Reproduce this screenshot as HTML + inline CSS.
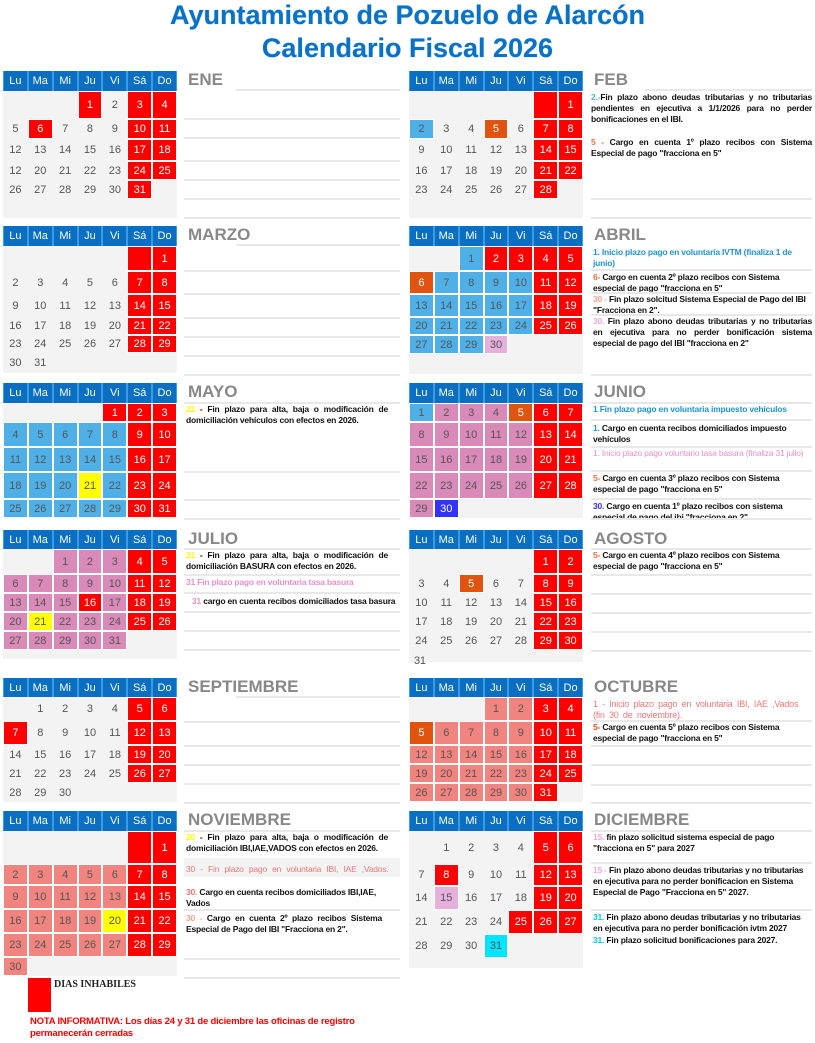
<!DOCTYPE html>
<html><head><meta charset="utf-8">
<style>
*{margin:0;padding:0;box-sizing:border-box}
body{width:815px;height:1043px;background:#fff;position:relative;overflow:hidden;font-family:"Liberation Sans",Arial,sans-serif}
.t{position:absolute;left:0;width:815px;text-align:center;color:#0a72c6;font-weight:bold;font-size:27px;line-height:30px;text-shadow:0 0 1px #7fb6e6}
.g{position:absolute;width:174px;display:grid;grid-template-columns:repeat(7,1fr);background:#f3f3f3}
.g>div{display:flex;align-items:center;justify-content:center;font-size:11px;color:#555;border:1px solid transparent}
.g>.h{background:#0a6fc2;color:#fff;border:1px solid #3d9be0;border-top:0;border-bottom:0}
.g>.r{background:#ff0000;color:#fff;border-color:#fff}
.g>.b{background:#4fb0e8;border-color:#fff}
.g>.o{background:#e05410;color:#fff;border-color:#fff}
.g>.p{background:#d98ab8;border-color:#fff}
.g>.s{background:#f28480;border-color:#fff}
.g>.y{background:#ffff00;border-color:#fff}
.g>.d{background:#3333ff;color:#fff;border-color:#fff}
.g>.c{background:#00e5ff;border-color:#fff}
.g>.l{background:#e6b0dc;border-color:#fff}
.m{position:absolute;color:#888;font-weight:bold;font-size:17px;line-height:20px}
.n{position:absolute;font-size:8.5px;line-height:11px;font-weight:bold;color:#111;letter-spacing:-0.2px}
.j{text-align:justify;text-align-last:left}
.ln{position:absolute;height:2px;background:#e8e8e8}
</style></head><body>
<div class="t" style="top:0">Ayuntamiento de Pozuelo de Alarcón</div>
<div class="t" style="top:33px">Calendario Fiscal 2026</div>

<!-- ENE -->
<div class="g" style="left:3px;top:71px;grid-template-rows:20px 28px 20px 22px 19px 19px 19px">
<div class="h">Lu</div><div class="h">Ma</div><div class="h">Mi</div><div class="h">Ju</div><div class="h">Vi</div><div class="h">Sá</div><div class="h">Do</div>
<div></div><div></div><div></div><div class="r">1</div><div>2</div><div class="r">3</div><div class="r">4</div>
<div>5</div><div class="r">6</div><div>7</div><div>8</div><div>9</div><div class="r">10</div><div class="r">11</div>
<div>12</div><div>13</div><div>14</div><div>15</div><div>16</div><div class="r">17</div><div class="r">18</div>
<div>12</div><div>20</div><div>21</div><div>22</div><div>23</div><div class="r">24</div><div class="r">25</div>
<div>26</div><div>27</div><div>28</div><div>29</div><div>30</div><div class="r">31</div><div></div>
</div>
<div class="m" style="left:188px;top:70px">ENE</div>
<div class="ln" style="left:236px;width:164px;top:89px"></div>
<div class="ln" style="left:184px;width:216px;top:118px"></div>
<div class="ln" style="left:184px;width:216px;top:137px"></div>
<div class="ln" style="left:184px;width:216px;top:160px"></div>
<div class="ln" style="left:184px;width:216px;top:179px"></div>
<div class="ln" style="left:184px;width:216px;top:198px"></div>
<div class="ln" style="left:184px;width:216px;top:217px"></div>

<!-- FEB -->
<div class="g" style="left:409px;top:71px;grid-template-rows:20px 28px 20px 22px 19px 19px 19px">
<div class="h">Lu</div><div class="h">Ma</div><div class="h">Mi</div><div class="h">Ju</div><div class="h">Vi</div><div class="h">Sá</div><div class="h">Do</div>
<div></div><div></div><div></div><div></div><div></div><div class="r"></div><div class="r">1</div>
<div class="b">2</div><div>3</div><div>4</div><div class="o">5</div><div>6</div><div class="r">7</div><div class="r">8</div>
<div>9</div><div>10</div><div>11</div><div>12</div><div>13</div><div class="r">14</div><div class="r">15</div>
<div>16</div><div>17</div><div>18</div><div>19</div><div>20</div><div class="r">21</div><div class="r">22</div>
<div>23</div><div>24</div><div>25</div><div>26</div><div>27</div><div class="r">28</div><div></div>
</div>
<div class="m" style="left:594px;top:70px">FEB</div>
<div class="ln" style="left:645px;width:167px;top:89px"></div>
<div class="n j" style="left:591px;top:92px;width:221px"><span style="color:#4fb0e8">2.-</span>Fin plazo abono deudas tributarias y no tributarias pendientes en ejecutiva a 1/1/2026 para no perder bonificaciones en el IBI.</div>
<div class="n j" style="left:591px;top:137px;width:221px"><span style="color:#f07040">5 -</span> Cargo en cuenta 1º plazo recibos con Sistema Especial de pago "fracciona en 5"</div>
<div class="ln" style="left:591px;width:221px;top:198px"></div>
<div class="ln" style="left:591px;width:221px;top:217px"></div>

<!-- MARZO -->
<div class="g" style="left:3px;top:226px;grid-template-rows:20px 25px 23px 23px 18px 18px 20px">
<div class="h">Lu</div><div class="h">Ma</div><div class="h">Mi</div><div class="h">Ju</div><div class="h">Vi</div><div class="h">Sá</div><div class="h">Do</div>
<div></div><div></div><div></div><div></div><div></div><div class="r"></div><div class="r">1</div>
<div>2</div><div>3</div><div>4</div><div>5</div><div>6</div><div class="r">7</div><div class="r">8</div>
<div>9</div><div>10</div><div>11</div><div>12</div><div>13</div><div class="r">14</div><div class="r">15</div>
<div>16</div><div>17</div><div>18</div><div>19</div><div>20</div><div class="r">21</div><div class="r">22</div>
<div>23</div><div>24</div><div>25</div><div>26</div><div>27</div><div class="r">28</div><div class="r">29</div>
<div>30</div><div>31</div><div></div><div></div><div></div><div></div><div></div>
</div>
<div class="m" style="left:188px;top:225px">MARZO</div>
<div class="ln" style="left:236px;width:164px;top:244px"></div>
<div class="ln" style="left:184px;width:216px;top:270px"></div>
<div class="ln" style="left:184px;width:216px;top:293px"></div>
<div class="ln" style="left:184px;width:216px;top:317px"></div>
<div class="ln" style="left:184px;width:216px;top:336px"></div>
<div class="ln" style="left:184px;width:216px;top:355px"></div>
<div class="ln" style="left:184px;width:216px;top:374px"></div>

<!-- ABRIL -->
<div class="g" style="left:409px;top:226px;grid-template-rows:20px 25px 23px 23px 18px 19px 20px">
<div class="h">Lu</div><div class="h">Ma</div><div class="h">Mi</div><div class="h">Ju</div><div class="h">Vi</div><div class="h">Sá</div><div class="h">Do</div>
<div></div><div></div><div class="b">1</div><div class="r">2</div><div class="r">3</div><div class="r">4</div><div class="r">5</div>
<div class="o">6</div><div class="b">7</div><div class="b">8</div><div class="b">9</div><div class="b">10</div><div class="r">11</div><div class="r">12</div>
<div class="b">13</div><div class="b">14</div><div class="b">15</div><div class="b">16</div><div class="b">17</div><div class="r">18</div><div class="r">19</div>
<div class="b">20</div><div class="b">21</div><div class="b">22</div><div class="b">23</div><div class="b">24</div><div class="r">25</div><div class="r">26</div>
<div class="b">27</div><div class="b">28</div><div class="b">29</div><div class="l">30</div><div></div><div></div><div></div>
</div>
<div class="m" style="left:594px;top:225px">ABRIL</div>
<div class="n" style="left:593px;top:247px;width:219px;color:#1f95d8">1. Inicio plazo pago en voluntaria IVTM (finaliza 1 de junio)</div>
<div class="ln" style="left:591px;width:221px;top:269px"></div>
<div class="n" style="left:593px;top:272px;width:219px"><span style="color:#f07040">6-</span> Cargo en cuenta 2º plazo recibos con Sistema especial de pago "fracciona en 5"</div>
<div class="ln" style="left:591px;width:221px;top:292px"></div>
<div class="n" style="left:593px;top:294px;width:219px"><span style="color:#f8a090">30 -</span> Fin plazo solcitud Sistema Especial de Pago del IBI "Fracciona en 2".</div>
<div class="ln" style="left:591px;width:221px;top:314px"></div>
<div class="n j" style="left:593px;top:316px;width:219px"><span style="color:#f0a8d8">30.</span> Fin plazo abono deudas tributarias y no tributarias en ejecutiva para no perder bonificación sistema especial de pago del IBI "fracciona en 2"</div>
<div class="ln" style="left:591px;width:221px;top:374px"></div>

<!-- MAYO -->
<div class="g" style="left:3px;top:383px;grid-template-rows:20px 19px 25px 25px 27px 19px">
<div class="h">Lu</div><div class="h">Ma</div><div class="h">Mi</div><div class="h">Ju</div><div class="h">Vi</div><div class="h">Sá</div><div class="h">Do</div>
<div></div><div></div><div></div><div></div><div class="r">1</div><div class="r">2</div><div class="r">3</div>
<div class="b">4</div><div class="b">5</div><div class="b">6</div><div class="b">7</div><div class="b">8</div><div class="r">9</div><div class="r">10</div>
<div class="b">11</div><div class="b">12</div><div class="b">13</div><div class="b">14</div><div class="b">15</div><div class="r">16</div><div class="r">17</div>
<div class="b">18</div><div class="b">19</div><div class="b">20</div><div class="y">21</div><div class="b">22</div><div class="r">23</div><div class="r">24</div>
<div class="b">25</div><div class="b">26</div><div class="b">27</div><div class="b">28</div><div class="b">29</div><div class="r">30</div><div class="r">31</div>
</div>
<div class="m" style="left:188px;top:382px">MAYO</div>
<div class="ln" style="left:184px;width:216px;top:402px"></div>
<div class="n j" style="left:186px;top:404px;width:202px"><span style="color:#ffff00">22</span> - Fin plazo para alta, baja o modificación de domiciliación vehículos con efectos en 2026.</div>
<div class="ln" style="left:184px;width:216px;top:471px"></div>
<div class="ln" style="left:184px;width:216px;top:499px"></div>
<div class="ln" style="left:184px;width:216px;top:518px"></div>

<!-- JUNIO -->
<div class="g" style="left:409px;top:383px;grid-template-rows:20px 19px 25px 25px 27px 19px">
<div class="h">Lu</div><div class="h">Ma</div><div class="h">Mi</div><div class="h">Ju</div><div class="h">Vi</div><div class="h">Sá</div><div class="h">Do</div>
<div class="b">1</div><div class="p">2</div><div class="p">3</div><div class="p">4</div><div class="o">5</div><div class="r">6</div><div class="r">7</div>
<div class="p">8</div><div class="p">9</div><div class="p">10</div><div class="p">11</div><div class="p">12</div><div class="r">13</div><div class="r">14</div>
<div class="p">15</div><div class="p">16</div><div class="p">17</div><div class="p">18</div><div class="p">19</div><div class="r">20</div><div class="r">21</div>
<div class="p">22</div><div class="p">23</div><div class="p">24</div><div class="p">25</div><div class="p">26</div><div class="r">27</div><div class="r">28</div>
<div class="p">29</div><div class="d">30</div><div></div><div></div><div></div><div></div><div></div>
</div>
<div class="m" style="left:594px;top:382px">JUNIO</div>
<div class="ln" style="left:591px;width:221px;top:402px"></div>
<div class="n" style="left:593px;top:404px;width:219px;color:#1f95d8">1 Fin plazo pago en voluntaria impuesto vehículos</div>
<div class="ln" style="left:591px;width:221px;top:419px"></div>
<div class="n" style="left:593px;top:423px;width:219px"><span style="color:#1f95d8">1.</span> Cargo en cuenta recibos domiciliados impuesto vehículos</div>
<div class="ln" style="left:591px;width:221px;top:446px"></div>
<div class="n" style="left:593px;top:448px;width:219px;color:#e890c8;font-weight:normal">1. Inicio plazo pago voluntario tasa basura (finaliza 31 julio)</div>
<div class="ln" style="left:591px;width:221px;top:470px"></div>
<div class="n" style="left:593px;top:473px;width:219px"><span style="color:#f07040">5-</span> Cargo en cuenta 3º plazo recibos con Sistema especial de pago "fracciona en 5"</div>
<div class="ln" style="left:591px;width:221px;top:498px"></div>
<div class="n" style="left:593px;top:501px;width:219px;height:17px;overflow:hidden"><span style="color:#3333ff">30.</span> Cargo en cuenta 1º plazo recibos con sistema especial de pago del ibi "fracciona en 2"</div>
<div class="ln" style="left:591px;width:221px;top:518px"></div>

<!-- JULIO -->
<div class="g" style="left:3px;top:530px;grid-template-rows:19px 25px 19px 19px 19px 19px 9px">
<div class="h">Lu</div><div class="h">Ma</div><div class="h">Mi</div><div class="h">Ju</div><div class="h">Vi</div><div class="h">Sá</div><div class="h">Do</div>
<div></div><div></div><div class="p">1</div><div class="p">2</div><div class="p">3</div><div class="r">4</div><div class="r">5</div>
<div class="p">6</div><div class="p">7</div><div class="p">8</div><div class="p">9</div><div class="p">10</div><div class="r">11</div><div class="r">12</div>
<div class="p">13</div><div class="p">14</div><div class="p">15</div><div class="r">16</div><div class="p">17</div><div class="r">18</div><div class="r">19</div>
<div class="p">20</div><div class="y">21</div><div class="p">22</div><div class="p">23</div><div class="p">24</div><div class="r">25</div><div class="r">26</div>
<div class="p">27</div><div class="p">28</div><div class="p">29</div><div class="p">30</div><div class="p">31</div><div></div><div></div>
</div>
<div class="m" style="left:188px;top:529px">JULIO</div>
<div class="ln" style="left:184px;width:216px;top:548px"></div>
<div class="n j" style="left:186px;top:550px;width:202px"><span style="color:#ffff00">31</span> - Fin plazo para alta, baja o modificación de domiciliación BASURA con efectos en 2026.</div>
<div class="ln" style="left:184px;width:216px;top:574px"></div>
<div class="n" style="left:186px;top:577px;width:214px;color:#e890c8">31 Fin plazo pago en voluntaria tasa basura</div>
<div class="ln" style="left:184px;width:216px;top:592px"></div>
<div class="n" style="left:192px;top:596px;width:208px"><span style="color:#e890c8">31</span> cargo en cuenta recibos domiciliados tasa basura</div>
<div class="ln" style="left:184px;width:216px;top:611px"></div>
<div class="ln" style="left:184px;width:216px;top:630px"></div>
<div class="ln" style="left:184px;width:216px;top:649px"></div>

<!-- AGOSTO -->
<div class="g" style="left:409px;top:530px;grid-template-rows:19px 25px 19px 19px 19px 19px 12px">
<div class="h">Lu</div><div class="h">Ma</div><div class="h">Mi</div><div class="h">Ju</div><div class="h">Vi</div><div class="h">Sá</div><div class="h">Do</div>
<div></div><div></div><div></div><div></div><div></div><div class="r">1</div><div class="r">2</div>
<div>3</div><div>4</div><div class="o">5</div><div>6</div><div>7</div><div class="r">8</div><div class="r">9</div>
<div>10</div><div>11</div><div>12</div><div>13</div><div>14</div><div class="r">15</div><div class="r">16</div>
<div>17</div><div>18</div><div>19</div><div>20</div><div>21</div><div class="r">22</div><div class="r">23</div>
<div>24</div><div>25</div><div>26</div><div>27</div><div>28</div><div class="r">29</div><div class="r">30</div>
</div>
<div class="n" style="left:414px;top:656px;font-weight:normal;font-size:11px;color:#555">31</div>
<div class="m" style="left:594px;top:529px">AGOSTO</div>
<div class="ln" style="left:591px;width:221px;top:548px"></div>
<div class="n" style="left:593px;top:550px;width:219px"><span style="color:#f07040">5-</span> Cargo en cuenta 4º plazo recibos con Sistema especial de pago "fracciona en 5"</div>
<div class="ln" style="left:591px;width:221px;top:574px"></div>
<div class="ln" style="left:591px;width:221px;top:593px"></div>
<div class="ln" style="left:591px;width:221px;top:612px"></div>
<div class="ln" style="left:591px;width:221px;top:631px"></div>
<div class="ln" style="left:591px;width:221px;top:650px"></div>

<!-- SEPT -->
<div class="g" style="left:3px;top:678px;grid-template-rows:19px 24px 24px 19px 19px 19px">
<div class="h">Lu</div><div class="h">Ma</div><div class="h">Mi</div><div class="h">Ju</div><div class="h">Vi</div><div class="h">Sá</div><div class="h">Do</div>
<div></div><div>1</div><div>2</div><div>3</div><div>4</div><div class="r">5</div><div class="r">6</div>
<div class="r">7</div><div>8</div><div>9</div><div>10</div><div>11</div><div class="r">12</div><div class="r">13</div>
<div>14</div><div>15</div><div>16</div><div>17</div><div>18</div><div class="r">19</div><div class="r">20</div>
<div>21</div><div>22</div><div>23</div><div>24</div><div>25</div><div class="r">26</div><div class="r">27</div>
<div>28</div><div>29</div><div>30</div><div></div><div></div><div></div><div></div>
</div>
<div class="m" style="left:188px;top:677px">SEPTIEMBRE</div>
<div class="ln" style="left:236px;width:164px;top:696px"></div>
<div class="ln" style="left:184px;width:216px;top:721px"></div>
<div class="ln" style="left:184px;width:216px;top:745px"></div>
<div class="ln" style="left:184px;width:216px;top:764px"></div>
<div class="ln" style="left:184px;width:216px;top:783px"></div>
<div class="ln" style="left:184px;width:216px;top:802px"></div>

<!-- OCT -->
<div class="g" style="left:409px;top:678px;grid-template-rows:19px 24px 24px 19px 19px 19px">
<div class="h">Lu</div><div class="h">Ma</div><div class="h">Mi</div><div class="h">Ju</div><div class="h">Vi</div><div class="h">Sá</div><div class="h">Do</div>
<div></div><div></div><div></div><div class="s">1</div><div class="s">2</div><div class="r">3</div><div class="r">4</div>
<div class="o">5</div><div class="s">6</div><div class="s">7</div><div class="s">8</div><div class="s">9</div><div class="r">10</div><div class="r">11</div>
<div class="s">12</div><div class="s">13</div><div class="s">14</div><div class="s">15</div><div class="s">16</div><div class="r">17</div><div class="r">18</div>
<div class="s">19</div><div class="s">20</div><div class="s">21</div><div class="s">22</div><div class="s">23</div><div class="r">24</div><div class="r">25</div>
<div class="s">26</div><div class="s">27</div><div class="s">28</div><div class="s">29</div><div class="s">30</div><div class="r">31</div><div></div>
</div>
<div class="m" style="left:594px;top:677px">OCTUBRE</div>
<div class="n" style="left:593px;top:699px;width:219px;color:#f07878;font-weight:normal;font-size:9px;word-spacing:2px">1 - Inicio plazo pago en voluntaria IBI, IAE ,Vados<br>(fin 30 de noviembre).</div>
<div class="ln" style="left:591px;width:221px;top:720px"></div>
<div class="n" style="left:593px;top:722px;width:219px"><span style="color:#e05410">5-</span> Cargo en cuenta 5º plazo recibos con Sistema especial de pago "fracciona en 5"</div>
<div class="ln" style="left:591px;width:221px;top:745px"></div>
<div class="ln" style="left:591px;width:221px;top:764px"></div>
<div class="ln" style="left:591px;width:221px;top:784px"></div>
<div class="ln" style="left:591px;width:221px;top:802px"></div>

<!-- NOV -->
<div class="g" style="left:3px;top:811px;grid-template-rows:20px 33px 21px 24px 24px 24px 19px">
<div class="h">Lu</div><div class="h">Ma</div><div class="h">Mi</div><div class="h">Ju</div><div class="h">Vi</div><div class="h">Sá</div><div class="h">Do</div>
<div></div><div></div><div></div><div></div><div></div><div class="r"></div><div class="r">1</div>
<div class="s">2</div><div class="s">3</div><div class="s">4</div><div class="s">5</div><div class="s">6</div><div class="r">7</div><div class="r">8</div>
<div class="s">9</div><div class="s">10</div><div class="s">11</div><div class="s">12</div><div class="s">13</div><div class="r">14</div><div class="r">15</div>
<div class="s">16</div><div class="s">17</div><div class="s">18</div><div class="s">19</div><div class="y">20</div><div class="r">21</div><div class="r">22</div>
<div class="s">23</div><div class="s">24</div><div class="s">25</div><div class="s">26</div><div class="s">27</div><div class="r">28</div><div class="r">29</div>
<div class="s">30</div><div></div><div></div><div></div><div></div><div></div><div></div>
</div>
<div class="m" style="left:188px;top:810px">NOVIEMBRE</div>
<div class="ln" style="left:184px;width:216px;top:830px"></div>
<div class="n j" style="left:186px;top:832px;width:202px"><span style="color:#ffff00">20</span> - Fin plazo para alta, baja o modificación de domiciliación IBI,IAE,VADOS con efectos en 2026.</div>
<div style="position:absolute;left:184px;top:858px;width:216px;height:19px;background:#f3f3f3"></div>
<div class="n" style="left:186px;top:864px;width:206px;color:#f07878;font-weight:normal;word-spacing:3px">30 - Fin plazo pago en voluntaria IBI, IAE ,Vados.</div>
<div class="n" style="left:186px;top:887px;width:202px"><span style="color:#f07878">30.</span> Cargo en cuenta recibos domiciliados IBI,IAE, Vados</div>
<div class="ln" style="left:184px;width:216px;top:909px"></div>
<div class="n j" style="left:186px;top:913px;width:196px"><span style="color:#f8a090">30 -</span> Cargo en cuenta 2º plazo recibos Sistema Especial de Pago del IBI "Fracciona en 2".</div>
<div class="ln" style="left:184px;width:216px;top:958px"></div>
<div class="ln" style="left:184px;width:216px;top:977px"></div>

<!-- DIC -->
<div class="g" style="left:409px;top:811px;grid-template-rows:20px 33px 22px 24px 24px 24px 10px">
<div class="h">Lu</div><div class="h">Ma</div><div class="h">Mi</div><div class="h">Ju</div><div class="h">Vi</div><div class="h">Sá</div><div class="h">Do</div>
<div></div><div>1</div><div>2</div><div>3</div><div>4</div><div class="r">5</div><div class="r">6</div>
<div>7</div><div class="r">8</div><div>9</div><div>10</div><div>11</div><div class="r">12</div><div class="r">13</div>
<div>14</div><div class="l">15</div><div>16</div><div>17</div><div>18</div><div class="r">19</div><div class="r">20</div>
<div>21</div><div>22</div><div>23</div><div>24</div><div class="r">25</div><div class="r">26</div><div class="r">27</div>
<div>28</div><div>29</div><div>30</div><div class="c">31</div><div></div><div></div><div></div>
<div></div><div></div><div></div><div></div><div></div><div></div><div></div>
</div>
<div class="m" style="left:594px;top:810px">DICIEMBRE</div>
<div class="ln" style="left:591px;width:221px;top:830px"></div>
<div class="n" style="left:593px;top:832px;width:219px"><span style="color:#f0a8d8">15.</span> fin plazo solicitud sistema especial de pago "fracciona en 5" para 2027</div>
<div class="ln" style="left:591px;width:221px;top:862px"></div>
<div class="n" style="left:593px;top:865px;width:219px"><span style="color:#f0a8d8">15 -</span> Fin plazo abono deudas tributarias y no tributarias en ejecutiva para no perder bonificacion en Sistema Especial de Pago "Fracciona en 5" 2027.</div>
<div class="ln" style="left:591px;width:221px;top:909px"></div>
<div class="n" style="left:593px;top:912px;width:219px"><span style="color:#00c8f0">31.</span> Fin plazo abono deudas tributarias y no tributarias en ejecutiva para no perder bonificación ivtm 2027</div>
<div class="n" style="left:593px;top:935px;width:219px"><span style="color:#00c8f0">31.</span> Fin plazo solicitud bonificaciones para 2027.</div>

<!-- footer -->
<div style="position:absolute;left:28px;top:978px;width:23px;height:34px;background:#ff0000"></div>
<div style="position:absolute;left:54px;top:979px;font-family:'Liberation Serif',serif;font-weight:bold;font-size:10px;color:#222">DIAS INHABILES</div>
<div class="n" style="left:30px;top:1016px;width:380px;color:#ff0000;font-size:9.5px;line-height:12px">NOTA INFORMATIVA: Los días 24 y 31 de diciembre las oficinas de registro permanecerán cerradas</div>
</body></html>
